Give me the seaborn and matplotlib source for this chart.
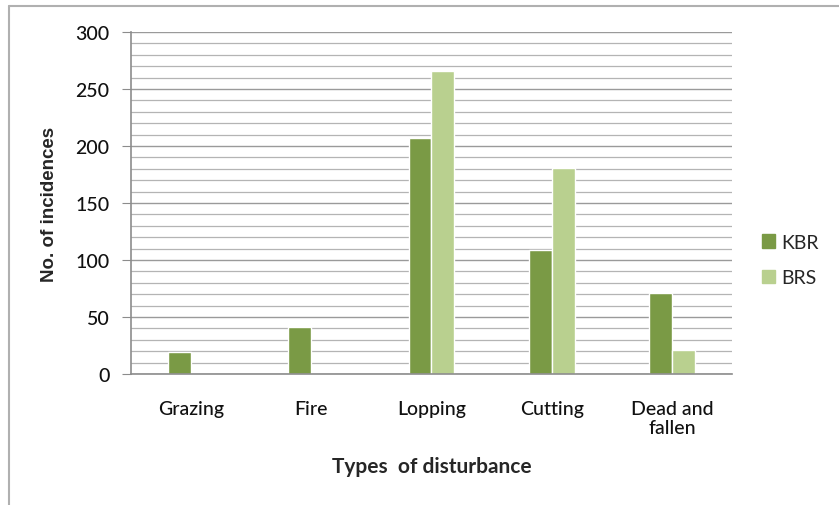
import pandas as pd
import matplotlib.pyplot as plt
import seaborn as sb
from matplotlib.ticker import MultipleLocator
from matplotlib.lines import Line2D

# data
categories = ['Grazing', 'Fire', 'Lopping', 'Cutting', 'Dead and\nfallen']
kbr = [19, 41, 207, 109, 71]
brs = [0, 0, 266, 181, 21]
series = ['KBR', 'BRS']
colors = ['#7A9A45', '#B9D08F']

df = pd.DataFrame({
    'type': categories * 2,
    'count': kbr + brs,
    'site': ['KBR'] * len(kbr) + ['BRS'] * len(brs),
})

sb.set_style('white')
plt.rcParams['font.family'] = ['Lato', 'DejaVu Sans']

fig = plt.figure(figsize=(8.39, 5.06), dpi=100)
ax = fig.add_axes([0.1561, 0.2589, 0.7164, 0.6759])

sb.barplot(data=df, x='type', y='count', hue='site', hue_order=series,
           palette=colors, width=0.38, saturation=1, ax=ax, legend=False)

ax.set_ylim(0, 300)
ax.set_xlim(-0.5, 4.5)
ax.yaxis.set_major_locator(MultipleLocator(50))
ax.yaxis.set_minor_locator(MultipleLocator(10))
ax.grid(axis='y', which='major', color='#9A9A9A', lw=1.0)
ax.grid(axis='y', which='minor', color='#B4B4B4', lw=0.9)
ax.set_axisbelow(True)

for s in ['top', 'right']:
    ax.spines[s].set_visible(False)
for s in ['left', 'bottom']:
    ax.spines[s].set_color('#8C8C8C')
    ax.spines[s].set_linewidth(1.2)

ax.tick_params(axis='y', which='major', left=True, length=6.5, color='#8C8C8C',
               labelsize=14, pad=9, labelcolor='#111111')
ax.tick_params(axis='y', which='minor', left=False)
ax.tick_params(axis='x', bottom=False, labelsize=14, pad=15, labelcolor='#111111')
for t in ax.get_xticklabels() + ax.get_yticklabels():
    t.set_fontweight('medium')

ax.set_xlabel('Types  of disturbance', fontsize=15, fontweight='bold')
ax.set_ylabel('No. of incidences', fontsize=13.5, fontweight='bold',
              family=['Liberation Sans', 'DejaVu Sans'])
ax.xaxis.set_label_coords(0.5, -0.269)
ax.xaxis.label.set_va('center')
ax.yaxis.set_label_coords(-0.135, 0.5)
ax.yaxis.label.set_va('center')

handles = [plt.Rectangle((0, 0), 1, 1, color=c) for c in colors]
fig.legend(handles, series, loc='center left', bbox_to_anchor=(0.908, 0.484),
           frameon=False, fontsize=14, handlelength=0.7, handleheight=0.7,
           handletextpad=0.3, labelspacing=0.95, borderpad=0, borderaxespad=0)

# chart area border (left and top only visible)
fig.add_artist(Line2D([9 / 839, 9 / 839], [0, 1 - 7 / 506], color='#B0B0B0', lw=1.5,
                      transform=fig.transFigure))
fig.add_artist(Line2D([9 / 839, 1], [1 - 7 / 506, 1 - 7 / 506], color='#B0B0B0', lw=1.5,
                      transform=fig.transFigure))

fig.savefig('out.png', dpi=100)
